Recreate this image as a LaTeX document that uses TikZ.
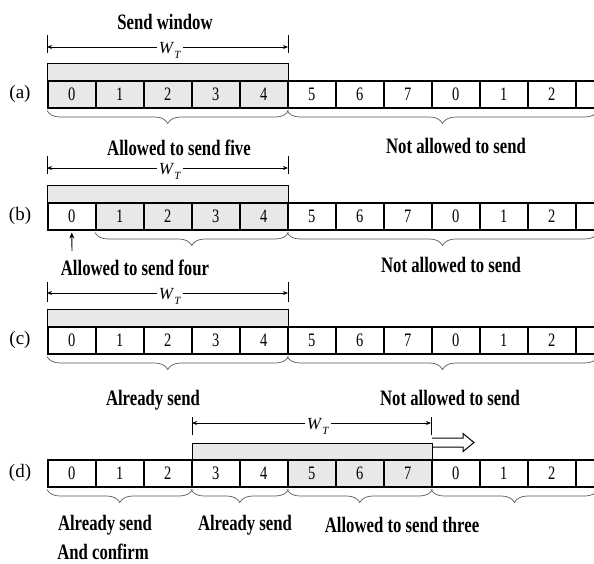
\documentclass[tikz,border=0pt]{standalone}
\usepackage{fontspec}
\setmainfont{Liberation Serif}
\newfontfamily\cfont[FakeStretch=0.76]{Liberation Serif}
\usetikzlibrary{decorations.pathreplacing,arrows.meta}
\tikzset{
  cell/.style={draw=black, line width=1.5pt, minimum width=48pt, minimum height=27pt,
    inner sep=0pt, anchor=north west, font=\cfont\fontsize{19}{19}\selectfont},
  winbar/.style={draw=black, line width=1.2pt, fill=gray!18, minimum height=17pt,
    inner sep=0pt, anchor=north west},
  dim/.style={line width=0.9pt, {Stealth[length=5pt,width=4pt]}-{Stealth[length=5pt,width=4pt]}},
  tick/.style={line width=0.9pt},
  wt/.style={fill=white, inner sep=2pt, font=\fontsize{17}{17}\selectfont},
  brc/.style={draw=black!65, line width=0.7pt, decorate,
    decoration={brace, mirror, amplitude=13pt}},
  lbl/.style={font=\cfont\bfseries\fontsize{22}{24}\selectfont, inner sep=0pt, align=center},
  rowlbl/.style={font=\fontsize{19}{19}\selectfont, inner sep=0pt},
}
\newcommand{\WT}{\textit{W}\raisebox{-0.3em}{\fontsize{11}{11}\selectfont\textit{T}}}
\begin{document}
\begin{tikzpicture}[x=1pt,y=-1pt]
\useasboundingbox (0,0) rectangle (594,563);
\clip (0,0) rectangle (594,563);

% ---------- row (a) ----------
\foreach \t [count=\i from 0] in {0,1,2,3,4,5,6,7,0,1,2,{}} {
  \pgfmathtruncatemacro\g{\i<5 ? 18 : 0}
  \node[cell, fill=gray!\g] (a\i) at (47+48*\i,80) {\t};
}
\node[winbar, minimum width=241pt] (abar) at (47,63) {};
\coordinate (aL) at (47,47); \coordinate (aR) at (288,47);
\coordinate (aLt) at (47,35); \coordinate (aLb) at (47,53);
\coordinate (aRt) at (288,35); \coordinate (aRb) at (288,53);
\draw[tick] (aLt) -- (aLb); \draw[tick] (aRt) -- (aRb);
\draw[dim] (aL) -- (aR);
\node[wt] (awt) at (170,50) {\WT};
\node[lbl] (atitle) at (165,22) {Send window};
\node[rowlbl] (alab) at (20,94) {(a)};
\draw[brc] ([yshift=-2pt]a0.south west) -- ([yshift=-2pt]a4.south east);
\draw[brc] ([yshift=-2pt]a5.south west) -- ([yshift=-2pt,xshift=23pt]a11.south west);
\node[lbl] (anot) at (456,146) {Not allowed to send};

% ---------- row (b) ----------
\foreach \t [count=\i from 0] in {0,1,2,3,4,5,6,7,0,1,2,{}} {
  \pgfmathtruncatemacro\g{(\i>0 && \i<5) ? 18 : 0}
  \node[cell, fill=gray!\g] (b\i) at (47+48*\i,202) {\t};
}
\node[winbar, minimum width=241pt] (bbar) at (47,185) {};
\coordinate (bL) at (47,168); \coordinate (bR) at (288,168);
\coordinate (bLt) at (47,156); \coordinate (bLb) at (47,174);
\coordinate (bRt) at (288,156); \coordinate (bRb) at (288,174);
\draw[tick] (bLt) -- (bLb); \draw[tick] (bRt) -- (bRb);
\draw[dim] (bL) -- (bR);
\node[wt] (bwt) at (170,171) {\WT};
\node[lbl] (btitle) at (179,148) {Allowed to send five};
\node[rowlbl] (blab) at (20,216) {(b)};
\draw[brc] ([yshift=-2pt]b1.south west) -- ([yshift=-2pt]b4.south east);
\draw[brc] ([yshift=-2pt]b5.south west) -- ([yshift=-2pt,xshift=23pt]b11.south west);
\coordinate (bup) at (72,251);
\draw[line width=0.9pt, -{Stealth[length=6pt,width=5pt]}] (bup) -- ([yshift=-2pt]b0.south);
\node[lbl] (bfour) at (135,268) {Allowed to send four};
\node[lbl] (bnot) at (451,265) {Not allowed to send};

% ---------- row (c) ----------
\foreach \t [count=\i from 0] in {0,1,2,3,4,5,6,7,0,1,2,{}} {
  \node[cell, fill=white] (c\i) at (47+48*\i,326) {\t};
}
\node[winbar, minimum width=241pt] (cbar) at (47,309) {};
\coordinate (cL) at (47,293); \coordinate (cR) at (288,293);
\coordinate (cLt) at (47,282); \coordinate (cLb) at (47,302);
\coordinate (cRt) at (288,282); \coordinate (cRb) at (288,302);
\draw[tick] (cLt) -- (cLb); \draw[tick] (cRt) -- (cRb);
\draw[dim] (cL) -- (cR);
\node[wt] (cwt) at (170,296) {\WT};
\node[rowlbl] (clab) at (20,340) {(c)};
\draw[brc] ([yshift=-2pt]c0.south west) -- ([yshift=-2pt]c4.south east);
\draw[brc] ([yshift=-2pt]c5.south west) -- ([yshift=-2pt,xshift=23pt]c11.south west);

% ---------- row (d) ----------
\foreach \t [count=\i from 0] in {0,1,2,3,4,5,6,7,0,1,2,{}} {
  \pgfmathtruncatemacro\g{(\i>4 && \i<8) ? 18 : 0}
  \node[cell, fill=gray!\g] (d\i) at (47+48*\i,459) {\t};
}
\node[winbar, minimum width=240pt, minimum height=16pt] (dbar) at (192,443) {};
\coordinate (dL) at (192,423); \coordinate (dR) at (431,423);
\coordinate (dLt) at (192,417); \coordinate (dLb) at (192,435);
\coordinate (dRt) at (431,417); \coordinate (dRb) at (431,435);
\draw[tick] (dLt) -- (dLb); \draw[tick] (dRt) -- (dRb);
\draw[dim] (dL) -- (dR);
\node[wt] (dwt) at (318,426) {\WT};
\node[lbl] (dalready) at (153,400) {Already send};
\node[lbl] (dnot) at (450,398) {Not allowed to send};
\node[rowlbl] (dlab) at (20,473) {(d)};
% hollow shift arrow
\coordinate (hs) at (432,451.5);
\draw[line width=1pt, line join=miter] ([yshift=4.5pt]hs) -- ++(31,0) -- ++(0,4.5) -- ++(11,-9) -- ++(-11,-9) -- ++(0,4.5) -- ++(-31,0);
\draw[brc] ([yshift=-2pt]d0.south west) -- ([yshift=-2pt]d2.south east);
\draw[brc] ([yshift=-2pt]d3.south west) -- ([yshift=-2pt]d4.south east);
\draw[brc] ([yshift=-2pt]d5.south west) -- ([yshift=-2pt]d7.south east);
\draw[brc] ([yshift=-2pt]d8.south west) -- ([yshift=-2pt,xshift=23pt]d11.south west);
\node[lbl] (dconf1) at (105,525) {Already send};
\node[lbl] (dconf2) at (103,552) {And confirm};
\node[lbl] (dsent) at (245,525) {Already send};
\node[lbl] (dthree) at (402,525) {Allowed to send three};
\end{tikzpicture}
\end{document}
